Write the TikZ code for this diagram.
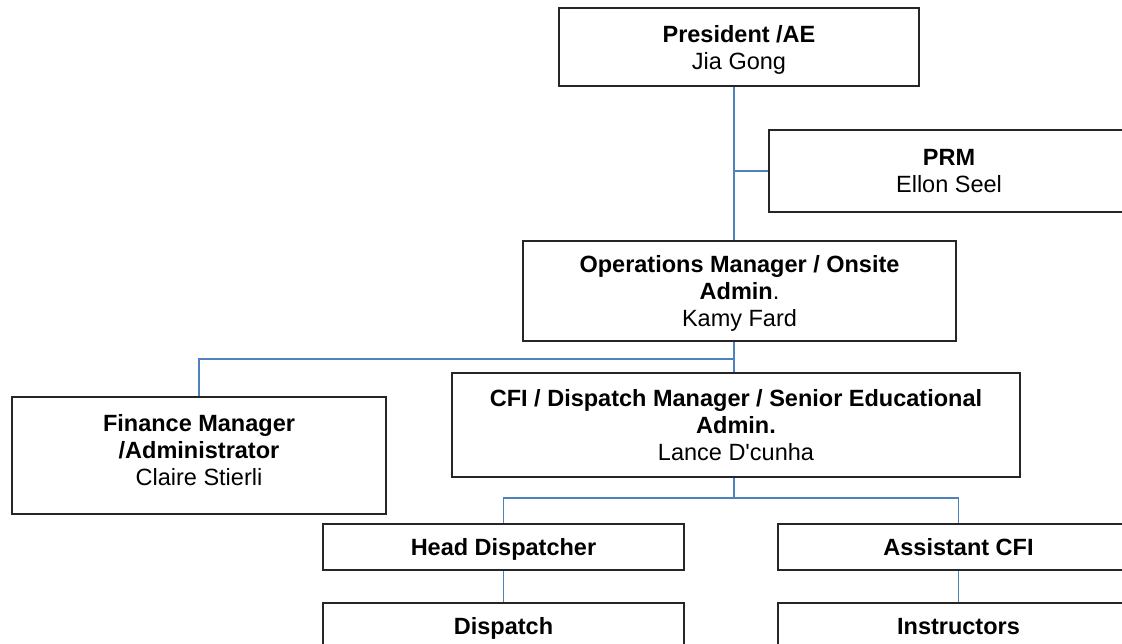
\documentclass[tikz,border=0pt]{standalone}
\usepackage{fontspec}
\setmainfont{Liberation Sans}[Ligatures=TeXReset]
\usetikzlibrary{calc}
\definecolor{linkblue}{HTML}{4F81BD}
\definecolor{boxline}{HTML}{262626}

\begin{document}
\begin{tikzpicture}[x=0.5pt,y=-0.5pt,
    box/.style={draw=boxline,line width=1pt,fill=white,align=center,inner sep=0pt,text depth=0pt,
        font=\fontsize{11.75}{13.5}\selectfont},
    rowbox/.style={box,minimum width=180.5pt,minimum height=23pt,text height=8.4pt},
    link/.style={draw=linkblue,line width=0.9pt}]
            \useasboundingbox (0,0) rectangle (1122,643);

            % top of the chart
            \node[box,minimum width=180pt,minimum height=39pt] (pres) at (739,47) {\textbf{President /AE}\\Jia Gong};
            \node[box,minimum width=180pt,minimum height=41pt] (prm) at (949,171) {\textbf{PRM}\\Ellon Seel};
            \node[box,minimum width=216.5pt,minimum height=50pt] (ops) at (739.5,291) {\textbf{Operations Manager / Onsite}\\\textbf{Admin}.\\Kamy Fard};
            \node[box,minimum width=187pt,minimum height=58.5pt,text depth=5.5pt] (fin) at (199,455.5) {\textbf{Finance Manager}\\\textbf{/Administrator}\\Claire Stierli};
            \node[box,minimum width=284pt,minimum height=52pt] (cfi) at (736,425) {\textbf{CFI / Dispatch Manager / Senior Educational}\\\textbf{Admin.}\\Lance D'cunha};

            % lower rows
            \foreach \name/\x/\txt in {head/503.5/Head Dispatcher,asst/958.5/Assistant CFI} {
            \node[rowbox] (\name) at (\x,547) {\textbf{\txt}};}
            \foreach \name/\x/\txt in {disp/503.5/Dispatch,instr/958.5/Instructors} {
            \node[rowbox] (\name) at (\x,626) {\textbf{\txt}};}

            \coordinate (spine) at (734,0);
            \coordinate (jfin) at (734,359);
            \coordinate (jsub) at (734,498);

            \draw[link] (pres.south -| spine) -- (ops.north -| spine);
            \draw[link] (spine |- prm.west) -- (prm.west);
            \draw[link] (ops.south -| spine) -- (cfi.north -| spine);
            \draw[link] (jfin) -| (fin.north);
            \draw[link] (cfi.south -| spine) -- (jsub);
            \draw[link] (head.north) |- (jsub) -| (asst.north);
            \draw[link] (head.south) -- (disp.north);
            \draw[link] (asst.south) -- (instr.north);
        \end{tikzpicture}
\end{document}
